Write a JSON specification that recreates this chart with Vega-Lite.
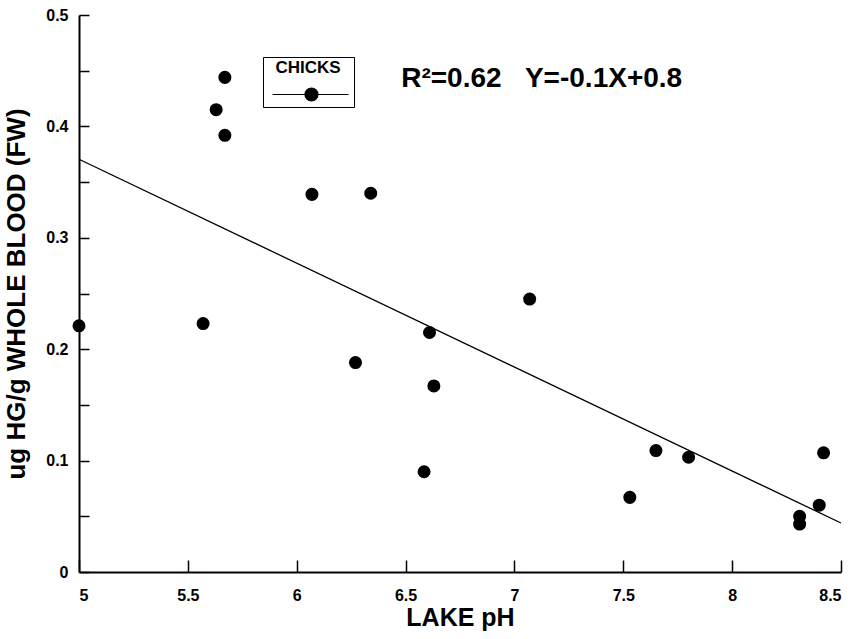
{
  "$schema": "https://vega.github.io/schema/vega-lite/v6.json",
  "width": 762,
  "height": 557,
  "autosize": {"type": "none"},
  "padding": {"left": 79, "top": 15, "right": 14, "bottom": 67},
  "background": "white",
  "config": {
    "view": {"stroke": null},
    "font": "Liberation Sans",
    "axis": {
      "grid": false,
      "domainColor": "black",
      "domainWidth": 2,
      "tickColor": "black",
      "tickWidth": 1.5,
      "labelFont": "Liberation Sans",
      "labelFontWeight": "bold",
      "labelFontSize": 16,
      "labelColor": "black",
      "titleFont": "Liberation Sans",
      "titleFontWeight": "bold",
      "titleColor": "black"
    }
  },
  "data": {
    "values": [
      {"pH": 5.00, "hg": 0.221},
      {"pH": 5.57, "hg": 0.223},
      {"pH": 5.63, "hg": 0.415},
      {"pH": 5.67, "hg": 0.444},
      {"pH": 5.67, "hg": 0.392},
      {"pH": 6.07, "hg": 0.339},
      {"pH": 6.34, "hg": 0.340},
      {"pH": 6.27, "hg": 0.188},
      {"pH": 6.61, "hg": 0.215},
      {"pH": 6.63, "hg": 0.167},
      {"pH": 6.585, "hg": 0.090},
      {"pH": 7.07, "hg": 0.245},
      {"pH": 7.53, "hg": 0.067},
      {"pH": 7.65, "hg": 0.109},
      {"pH": 7.80, "hg": 0.103},
      {"pH": 8.31, "hg": 0.050},
      {"pH": 8.31, "hg": 0.043},
      {"pH": 8.40, "hg": 0.060},
      {"pH": 8.42, "hg": 0.107}
    ]
  },
  "layer": [
    {
      "transform": [{"regression": "hg", "on": "pH", "extent": [5, 8.5]}],
      "mark": {"type": "line", "color": "black", "strokeWidth": 1.3},
      "encoding": {
        "x": {"field": "pH", "type": "quantitative"},
        "y": {"field": "hg", "type": "quantitative"}
      }
    },
    {
      "mark": {"type": "point", "filled": true, "size": 170, "opacity": 1},
      "encoding": {
        "x": {
          "field": "pH",
          "type": "quantitative",
          "title": "LAKE pH",
          "scale": {"domain": [5, 8.5], "nice": false, "zero": false},
          "axis": {
            "values": [5, 5.5, 6, 6.5, 7, 7.5, 8, 8.5],
            "format": "~g",
            "tickSize": -12,
            "labelFontSize": 16,
            "labelPadding": 27,
            "titleFontSize": 25,
            "titlePadding": 2
          }
        },
        "y": {
          "field": "hg",
          "type": "quantitative",
          "title": "ug HG/g WHOLE BLOOD (FW)",
          "scale": {"domain": [0, 0.5], "nice": false},
          "axis": {
            "values": [0, 0.05, 0.1, 0.15, 0.2, 0.25, 0.3, 0.35, 0.4, 0.45, 0.5],
            "format": "~g",
            "labelExpr": "round(datum.value * 100) % 10 === 0 ? datum.label : ''",
            "tickSize": -10,
            "labelFontSize": 16,
            "labelPadding": 21,
            "titleFontSize": 26,
            "titlePadding": 16
          }
        },
        "color": {
          "datum": "CHICKS",
          "scale": {"range": ["black"]},
          "legend": {
            "title": "CHICKS",
            "orient": "none",
            "legendX": 184,
            "legendY": 42,
            "strokeColor": "black",
            "padding": 3,
            "titleFont": "Liberation Sans",
            "titleFontWeight": "bold",
            "titleFontSize": 17,
            "titleColor": "black",
            "titleAnchor": "middle",
            "titlePadding": 10,
            "labelExpr": "''",
            "labelOffset": 0,
            "symbolType": "M-6,0L5.7,0M1,0A1,1,0,1,1,-1,0A1,1,0,1,1,1,0Z",
            "symbolSize": 169,
            "symbolFillColor": "black",
            "symbolStrokeColor": "black",
            "symbolStrokeWidth": 1.2,
            "symbolOffset": 38
          }
        }
      }
    },
    {
      "data": {"values": [{}]},
      "mark": {
        "type": "text",
        "align": "left",
        "baseline": "middle",
        "fontSize": 28,
        "fontWeight": "bold",
        "font": "Liberation Sans",
        "color": "black"
      },
      "encoding": {
        "x": {"datum": 6.48},
        "y": {"datum": 0.4425},
        "text": {"value": "R²=0.62\u00a0\u00a0\u00a0Y=-0.1X+0.8"}
      }
    }
  ]
}
